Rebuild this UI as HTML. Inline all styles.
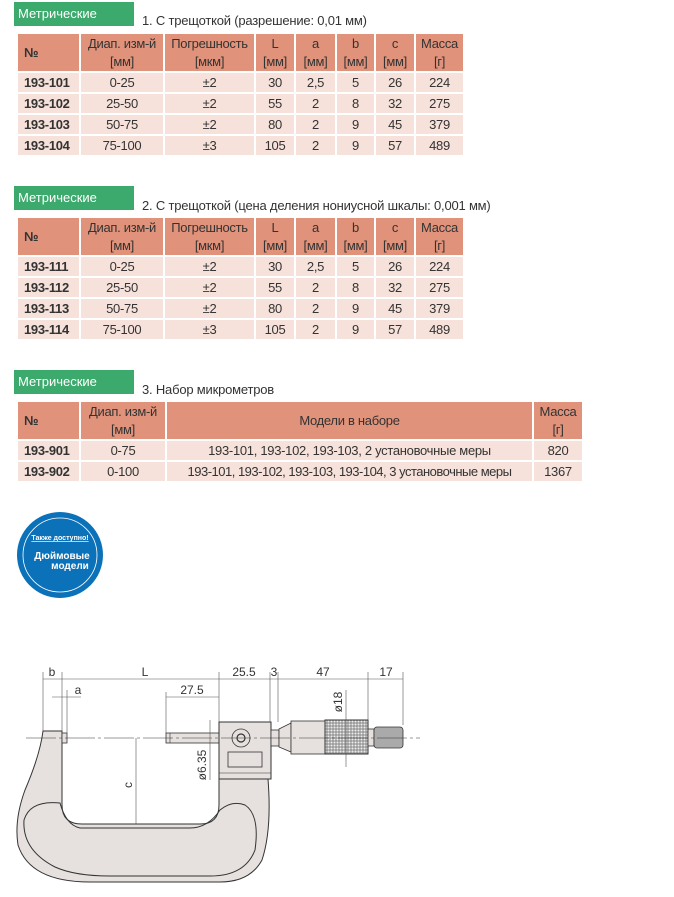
<!DOCTYPE html>
<html><head><meta charset="utf-8"><style>
body{margin:0;width:674px;height:897px;background:#fff;position:relative;overflow:hidden;font-family:"Liberation Sans Narrow","Liberation Sans",sans-serif;color:#333}
.tab{position:absolute;left:14px;width:120px;height:24px;background:#3caa6c;color:#fff;font-size:13px;line-height:24px;padding-left:4px;box-sizing:border-box}
.ttl{position:absolute;left:142px;font-size:13px;color:#333;letter-spacing:-0.2px}
table{position:absolute;left:16px;border-collapse:collapse;font-size:13px;table-layout:fixed;letter-spacing:-0.3px}
td{border:2px solid #fff;padding:0;text-align:center;line-height:19px;height:19px;background:#f6e2da;white-space:nowrap;overflow:hidden}
tr.h td{background:#e0927a;height:37px;line-height:18px}
td.n{text-align:left;padding-left:6px;font-weight:bold}
</style></head><body>

<div class="tab" style="top:2px">Метрические</div>
<div class="ttl" style="top:13px">1. С трещоткой (разрешение: 0,01 мм)</div>
<table style="top:32px">
<colgroup><col style="width:63px"><col style="width:84px"><col style="width:91px"><col style="width:40px"><col style="width:41px"><col style="width:39px"><col style="width:40px"><col style="width:49px"></colgroup>
<tr class="h"><td class="n">№</td><td>Диап. изм-й<br>[мм]</td><td>Погрешность<br>[мкм]</td><td>L<br>[мм]</td><td>a<br>[мм]</td><td>b<br>[мм]</td><td>c<br>[мм]</td><td>Масса<br>[г]</td></tr>
<tr><td class="n">193-101</td><td>0-25</td><td>±2</td><td>30</td><td>2,5</td><td>5</td><td>26</td><td>224</td></tr>
<tr><td class="n">193-102</td><td>25-50</td><td>±2</td><td>55</td><td>2</td><td>8</td><td>32</td><td>275</td></tr>
<tr><td class="n">193-103</td><td>50-75</td><td>±2</td><td>80</td><td>2</td><td>9</td><td>45</td><td>379</td></tr>
<tr><td class="n">193-104</td><td>75-100</td><td>±3</td><td>105</td><td>2</td><td>9</td><td>57</td><td>489</td></tr>
</table>

<div class="tab" style="top:186px">Метрические</div>
<div class="ttl" style="top:198px">2. С трещоткой (цена деления нониусной шкалы: 0,001 мм)</div>
<table style="top:216px">
<colgroup><col style="width:63px"><col style="width:84px"><col style="width:91px"><col style="width:40px"><col style="width:41px"><col style="width:39px"><col style="width:40px"><col style="width:49px"></colgroup>
<tr class="h"><td class="n">№</td><td>Диап. изм-й<br>[мм]</td><td>Погрешность<br>[мкм]</td><td>L<br>[мм]</td><td>a<br>[мм]</td><td>b<br>[мм]</td><td>c<br>[мм]</td><td>Масса<br>[г]</td></tr>
<tr><td class="n">193-111</td><td>0-25</td><td>±2</td><td>30</td><td>2,5</td><td>5</td><td>26</td><td>224</td></tr>
<tr><td class="n">193-112</td><td>25-50</td><td>±2</td><td>55</td><td>2</td><td>8</td><td>32</td><td>275</td></tr>
<tr><td class="n">193-113</td><td>50-75</td><td>±2</td><td>80</td><td>2</td><td>9</td><td>45</td><td>379</td></tr>
<tr><td class="n">193-114</td><td>75-100</td><td>±3</td><td>105</td><td>2</td><td>9</td><td>57</td><td>489</td></tr>
</table>

<div class="tab" style="top:370px">Метрические</div>
<div class="ttl" style="top:382px">3. Набор микрометров</div>
<table style="top:400px">
<colgroup><col style="width:63px"><col style="width:86px"><col style="width:367px"><col style="width:50px"></colgroup>
<tr class="h"><td class="n">№</td><td>Диап. изм-й<br>[мм]</td><td>Модели в наборе</td><td>Масса<br>[г]</td></tr>
<tr><td class="n">193-901</td><td>0-75</td><td>193-101, 193-102, 193-103, 2 установочные меры</td><td>820</td></tr>
<tr><td class="n">193-902</td><td>0-100</td><td style="letter-spacing:-0.5px">193-101, 193-102, 193-103, 193-104, 3 установочные меры</td><td>1367</td></tr>
</table>

<svg style="position:absolute;left:0;top:0" width="674" height="897">
<circle cx="60" cy="555" r="43" fill="#0b72b9"/>
<circle cx="60" cy="555" r="37" fill="none" stroke="#fff" stroke-width="0.8"/>
<text x="60" y="540" fill="#fff" font-size="7" font-weight="bold" text-anchor="middle" font-family="Liberation Sans Narrow,Liberation Sans,sans-serif" text-decoration="underline">Также доступно!</text>
<text x="62" y="559" fill="#fff" font-size="10" font-weight="bold" text-anchor="middle" font-family="Liberation Sans Narrow,Liberation Sans,sans-serif">Дюймовые</text>
<text x="70" y="569" fill="#fff" font-size="10" font-weight="bold" text-anchor="middle" font-family="Liberation Sans Narrow,Liberation Sans,sans-serif">модели</text>

<g font-family="Liberation Sans Narrow,Liberation Sans,sans-serif" font-size="12" fill="#333">
<path d="M43,731 L62,731 L62,805 Q62,824 82,824 L200,824 Q219,824 219,805 L219,779 L268,779 Q272,830 262,860 Q250,882 220,882 L90,882 Q30,882 18,845 Q14,820 25,790 Q40,755 43,731 Z" fill="#e6e1de" stroke="#333" stroke-width="1"/>
<path d="M60,803 Q30,800 24,820 Q22,850 55,867 Q75,876 110,876 L210,876 Q245,876 255,850 Q260,815 245,805 Q232,800 220,810 Q208,828 190,828 L80,828 Q66,825 60,803 Z" fill="none" stroke="#333" stroke-width="1"/>
<rect x="62" y="733" width="5" height="10" fill="#e6e1de" stroke="#333" stroke-width="0.8"/>
<rect x="166" y="733" width="53" height="10" fill="#e6e1de" stroke="#333" stroke-width="0.8"/>
<line x1="170" y1="733" x2="170" y2="743" stroke="#333" stroke-width="0.6"/>
<rect x="219" y="722" width="52" height="57" fill="#e6e1de" stroke="#333" stroke-width="1"/>
<line x1="219" y1="773" x2="271" y2="773" stroke="#333" stroke-width="0.6"/>
<circle cx="241" cy="738" r="9" fill="none" stroke="#333" stroke-width="0.8"/>
<circle cx="241" cy="738" r="4" fill="none" stroke="#333" stroke-width="1.2"/>
<rect x="228" y="752" width="34" height="15" fill="none" stroke="#333" stroke-width="0.8"/>
<rect x="271" y="730" width="8" height="16" fill="#e6e1de" stroke="#333" stroke-width="0.8"/>
<path d="M279,729 L291,723 L291,752 L279,747 Z" fill="#e6e1de" stroke="#333" stroke-width="0.8"/>
<rect x="291" y="721" width="34" height="33" fill="#e6e1de" stroke="#333" stroke-width="0.8"/>
<defs><pattern id="kn" width="3" height="3" patternUnits="userSpaceOnUse"><rect width="3" height="3" fill="#999"/><circle cx="1.5" cy="1.5" r="1" fill="#eee"/></pattern></defs>
<rect x="325" y="720" width="43" height="34" fill="url(#kn)" stroke="#333" stroke-width="1"/>
<rect x="368" y="729" width="6" height="17" fill="#e6e1de" stroke="#333" stroke-width="0.8"/>
<rect x="374" y="727" width="29" height="21" rx="3" fill="#aaa" stroke="#333" stroke-width="0.8"/>
<line x1="26" y1="738" x2="420" y2="738" stroke="#333" stroke-width="0.6" stroke-dasharray="30,3,3,3"/>
<g stroke="#555" stroke-width="0.6">
<line x1="43" y1="672" x2="43" y2="731"/><line x1="62" y1="672" x2="62" y2="731"/>
<line x1="67" y1="690" x2="67" y2="733"/><line x1="166" y1="692" x2="166" y2="733"/>
<line x1="219" y1="672" x2="219" y2="722"/><line x1="270" y1="672" x2="270" y2="722"/>
<line x1="278" y1="672" x2="278" y2="722"/><line x1="368" y1="672" x2="368" y2="720"/>
<line x1="403" y1="672" x2="403" y2="725"/>
<line x1="43" y1="679" x2="403" y2="679"/>
<line x1="166" y1="697" x2="219" y2="697"/>
<line x1="52" y1="697" x2="81" y2="697"/>
<line x1="136" y1="738" x2="136" y2="824"/>
<line x1="210" y1="720" x2="210" y2="780"/>
<line x1="346" y1="690" x2="346" y2="767"/>
</g>
<text x="52" y="676" text-anchor="middle">b</text>
<text x="145" y="676" text-anchor="middle">L</text>
<text x="244" y="676" text-anchor="middle">25.5</text>
<text x="274" y="676" text-anchor="middle">3</text>
<text x="323" y="676" text-anchor="middle">47</text>
<text x="386" y="676" text-anchor="middle">17</text>
<text x="192" y="694" text-anchor="middle">27.5</text>
<text x="78" y="694" text-anchor="middle">a</text>
<text transform="translate(132,785) rotate(-90)" text-anchor="middle">c</text>
<text transform="translate(206,765) rotate(-90)" text-anchor="middle">ø6.35</text>
<text transform="translate(342,702) rotate(-90)" text-anchor="middle">ø18</text>
</g>
</svg>
</body></html>
